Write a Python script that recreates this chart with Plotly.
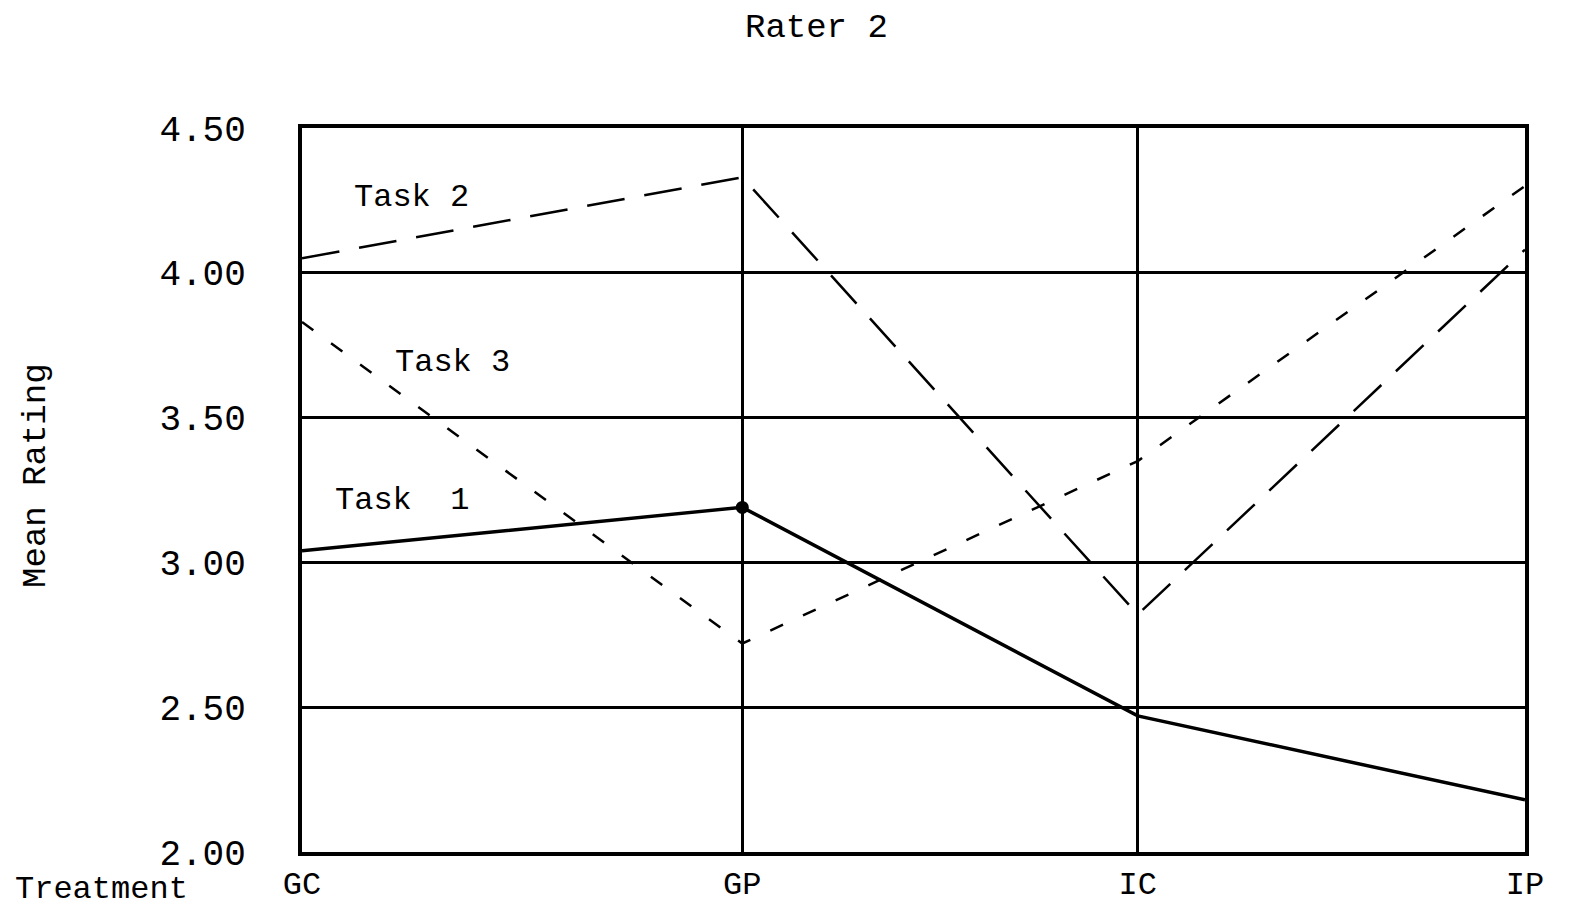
import plotly.graph_objects as go

treatments = ["GC", "GP", "IC", "IP"]
treatment_pos = [0.0, 1.08, 2.05, 3.0]   # uneven spacing as drawn
task1 = [3.04, 3.19, 2.47, 2.18]
task2 = [4.05, 4.33, 2.82, 4.08]
task3 = [3.83, 2.72, 3.35, 4.30]
y_ticks = [2.0, 2.5, 3.0, 3.5, 4.0, 4.5]

FONT = "Liberation Mono, Courier New, monospace"

fig = go.Figure()
fig.add_trace(go.Scatter(x=treatment_pos, y=task2, mode="lines",
                         line=dict(color="black", width=2.5, dash="38px,20px"),
                         name="Task 2", showlegend=False, hoverinfo="skip"))
fig.add_trace(go.Scatter(x=treatment_pos, y=task3, mode="lines",
                         line=dict(color="black", width=2.5, dash="14px,22px"),
                         name="Task 3", showlegend=False, hoverinfo="skip"))
fig.add_trace(go.Scatter(x=treatment_pos, y=task1, mode="lines",
                         line=dict(color="black", width=3.5),
                         name="Task 1", showlegend=False, hoverinfo="skip"))
fig.add_trace(go.Scatter(x=[treatment_pos[1]], y=[task1[1]], mode="markers",
                         marker=dict(color="black", size=13),
                         showlegend=False, hoverinfo="skip"))

# series labels
labels = [("Task 2", 0.268, 4.26), ("Task 3", 0.37, 3.69), ("Task  1", 0.245, 3.215)]
for txt, xx, yy in labels:
    fig.add_annotation(x=xx, y=yy, text=txt, showarrow=False,
                       font=dict(family=FONT, size=32, color="black"))

fig.add_annotation(xref="paper", yref="paper", x=-0.236, y=-0.052, text="Treatment",
                   showarrow=False, xanchor="left", yanchor="middle",
                   font=dict(family=FONT, size=32, color="black"))
fig.add_annotation(xref="paper", yref="paper", x=-0.218, y=0.52, text="Mean Rating",
                   showarrow=False, xanchor="center", yanchor="middle", textangle=-90,
                   font=dict(family=FONT, size=34, color="black"))
fig.add_annotation(xref="paper", yref="paper", x=0.421, y=1.138, text="Rater 2",
                   showarrow=False, xanchor="center", yanchor="middle",
                   font=dict(family=FONT, size=34, color="black"))

fig.update_layout(
    width=1555, height=900,
    paper_bgcolor="white", plot_bgcolor="white",
    margin=dict(l=294, r=38, t=120, b=56),
    font=dict(family=FONT, color="black"),
)
fig.update_xaxes(range=[0, 3], tickmode="array", tickvals=treatment_pos, ticktext=treatments,
                 showgrid=True, gridcolor="black", gridwidth=3, zeroline=False,
                 showline=True, linecolor="black", linewidth=4, mirror=True,
                 ticks="", automargin=False,
                 tickfont=dict(family=FONT, size=32, color="black"))
fig.update_yaxes(range=[2.0, 4.5], tickmode="array", tickvals=y_ticks, tickformat=".2f",
                 showgrid=True, gridcolor="black", gridwidth=3, zeroline=False,
                 showline=True, linecolor="black", linewidth=4, mirror=True,
                 ticks="outside", ticklen=45, tickcolor="white", automargin=False,
                 tickfont=dict(family=FONT, size=36, color="black"))

fig.write_html("out.html")
